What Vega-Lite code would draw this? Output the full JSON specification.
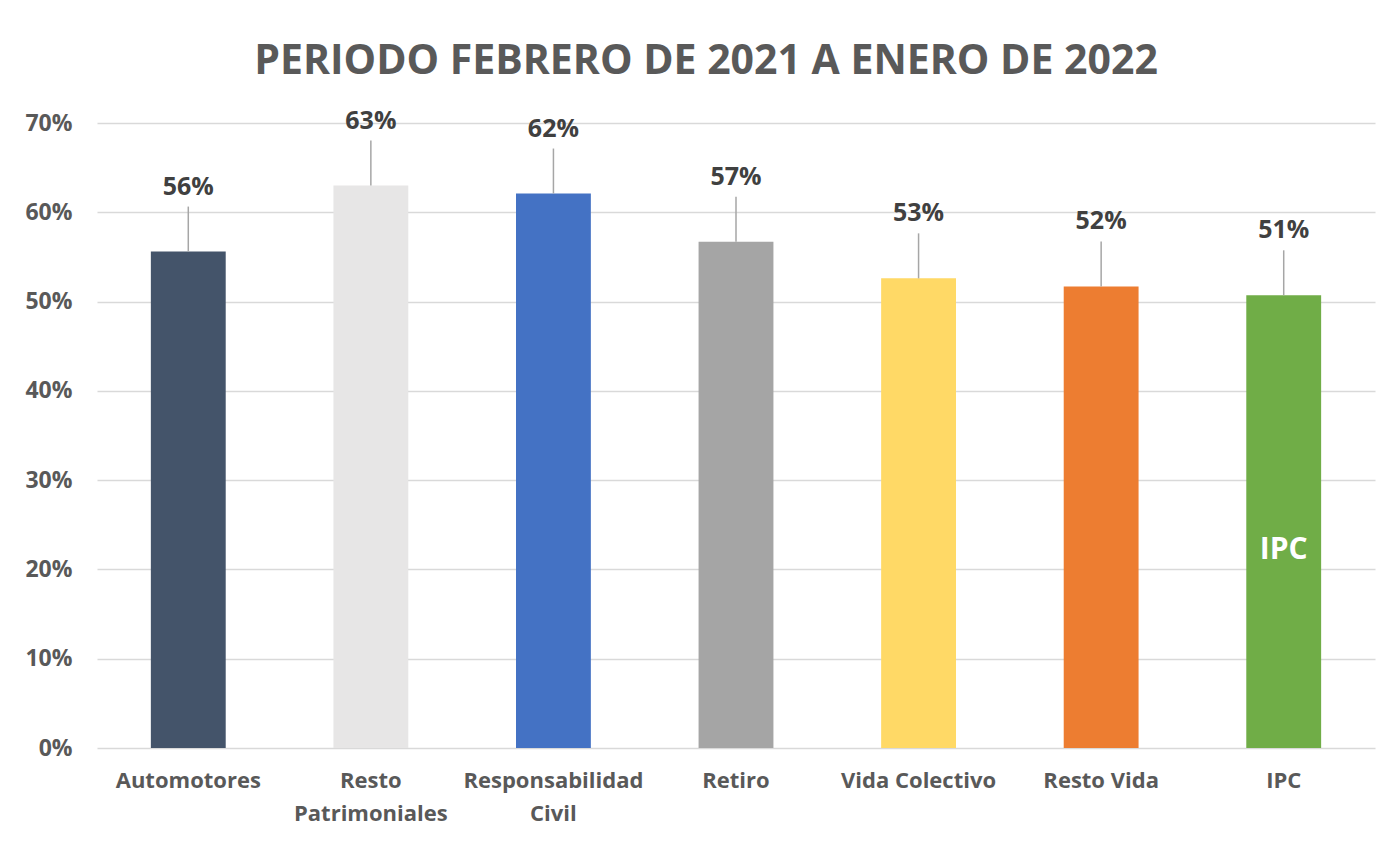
{
  "$schema": "https://vega.github.io/schema/vega-lite/v6.json",
  "width": 1278,
  "height": 625,
  "autosize": "none",
  "padding": {"left": 97, "top": 123, "right": 20, "bottom": 93},
  "background": "white",
  "config": {
    "font": "Open Sans",
    "view": {"stroke": null}
  },
  "title": {
    "text": "PERIODO FEBRERO DE 2021 A ENERO DE 2022",
    "fontSize": 41,
    "fontWeight": "bold",
    "color": "#595959",
    "anchor": "middle",
    "frame": "group",
    "baseline": "alphabetic",
    "offset": -6,
    "dx": -30
  },
  "data": {
    "values": [
      {"category": "Automotores", "value": 0.556},
      {"category": "Resto Patrimoniales", "value": 0.630},
      {"category": "Responsabilidad Civil", "value": 0.621},
      {"category": "Retiro", "value": 0.567},
      {"category": "Vida Colectivo", "value": 0.526},
      {"category": "Resto Vida", "value": 0.517},
      {"category": "IPC", "value": 0.507}
    ]
  },
  "encoding": {
    "x": {
      "field": "category",
      "type": "nominal",
      "sort": null,
      "scale": {"paddingInner": 0.59, "paddingOuter": 0.295},
      "axis": {
        "title": null,
        "labelAngle": 0,
        "ticks": false,
        "domain": false,
        "labelFontSize": 22,
        "labelFontWeight": "bold",
        "labelColor": "#595959",
        "labelPadding": 22,
        "labelBaseline": "top",
        "labelLineHeight": 33,
        "labelExpr": "datum.value == 'Resto Patrimoniales' ? ['Resto', 'Patrimoniales'] : datum.value == 'Responsabilidad Civil' ? ['Responsabilidad', 'Civil'] : datum.value"
      }
    }
  },
  "layer": [
    {
      "mark": {"type": "bar"},
      "encoding": {
        "y": {
          "field": "value",
          "type": "quantitative",
          "scale": {"domain": [0, 0.7]},
          "axis": {
            "title": null,
            "values": [0, 0.1, 0.2, 0.3, 0.4, 0.5, 0.6, 0.7],
            "format": ".0%",
            "domain": false,
            "ticks": false,
            "grid": true,
            "gridColor": "#d9d9d9",
            "gridWidth": 1.5,
            "labelFontSize": 23,
            "labelFontWeight": "bold",
            "labelColor": "#595959",
            "labelPadding": 25
          }
        },
        "color": {
          "field": "category",
          "type": "nominal",
          "legend": null,
          "scale": {
            "domain": ["Automotores", "Resto Patrimoniales", "Responsabilidad Civil", "Retiro", "Vida Colectivo", "Resto Vida", "IPC"],
            "range": ["#44546a", "#e7e6e6", "#4472c4", "#a5a5a5", "#ffd966", "#ed7d31", "#70ad47"]
          }
        }
      }
    },
    {
      "mark": {"type": "rule", "color": "#a6a6a6", "strokeWidth": 1.5, "y2Offset": -45},
      "encoding": {
        "y": {"field": "value", "type": "quantitative"},
        "y2": {"field": "value"}
      }
    },
    {
      "mark": {"type": "text", "fontSize": 25, "fontWeight": "bold", "color": "#404040", "baseline": "alphabetic", "dy": -57},
      "encoding": {
        "y": {"field": "value", "type": "quantitative"},
        "text": {"field": "value", "type": "quantitative", "format": ".0%"}
      }
    },
    {
      "transform": [{"filter": "datum.category == 'IPC'"}],
      "mark": {"type": "text", "fontSize": 30, "fontWeight": "bold", "color": "white", "baseline": "middle"},
      "encoding": {
        "y": {"datum": 0.222, "type": "quantitative"},
        "text": {"field": "category"}
      }
    }
  ]
}
